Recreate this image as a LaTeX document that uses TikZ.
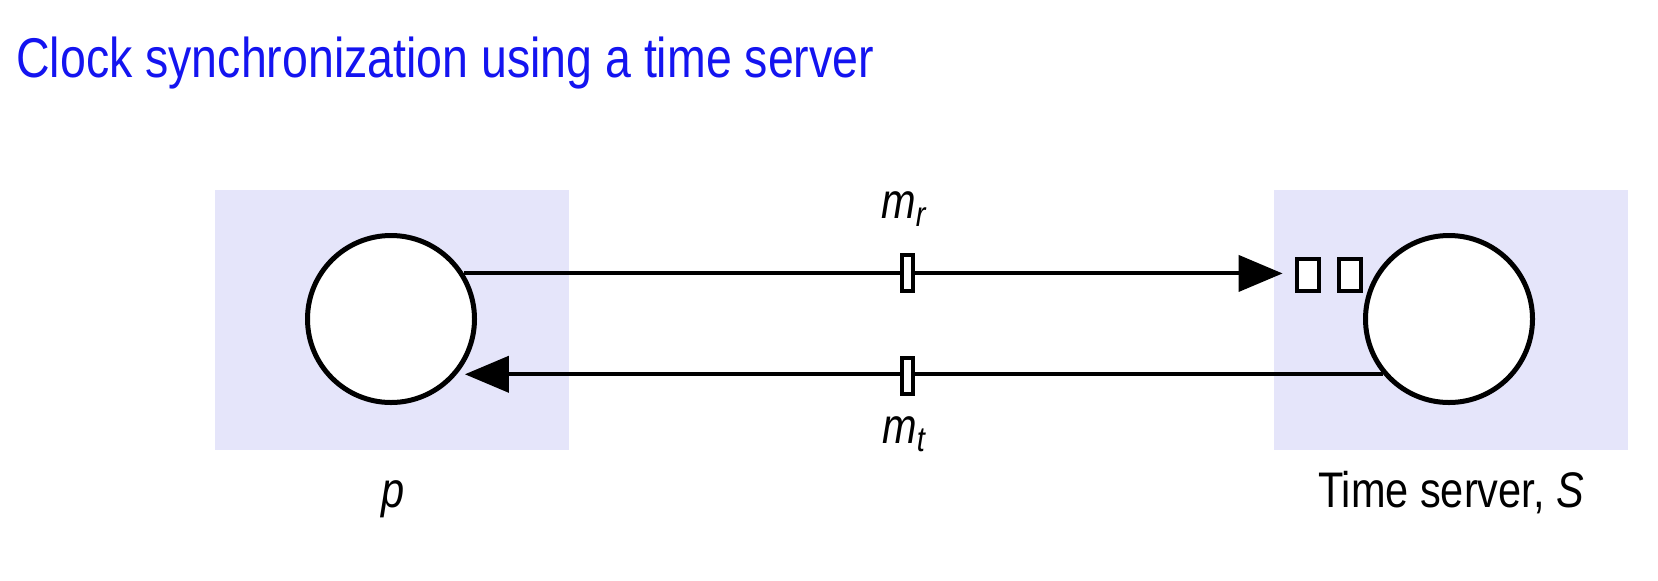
\documentclass[tikz,border=0pt]{standalone}
\usepackage{fontspec}
\setmainfont[FakeStretch=0.83]{Liberation Sans}
\usetikzlibrary{arrows.meta}

\definecolor{procbg}{RGB}{229,229,250}
\definecolor{titleblue}{RGB}{20,20,240}

\begin{document}
\begin{tikzpicture}[
    x=0.5pt, y=-0.5pt,
    every node/.style={font=\fontsize{25}{29}\selectfont},
    >={Triangle[length=22pt,width=18pt]},
    procbox/.style={fill=procbg, draw=none, minimum width=177pt, minimum height=130pt, inner sep=0pt},
    proc/.style={circle, draw=black, fill=white, line width=2.5pt, minimum size=83.5pt, inner sep=0pt},
    msg/.style={line width=2pt},
    stamp/.style={rectangle, draw=black, fill=white, line width=2pt, minimum width=5.5pt, minimum height=18pt, inner sep=0pt},
    queued/.style={rectangle, draw=black, fill=white, line width=2.4pt, minimum width=11pt, minimum height=16pt, inner sep=0pt},
]

% Canvas
\useasboundingbox (0,0) rectangle (1658,580);

% Title
\node[anchor=base west, text=titleblue, inner sep=0pt, font=\fontsize{28}{32}\selectfont] (title) at (16,77)
    {Clock synchronization using a time server};

% === Shaded areas ===
\node[procbox] (pbox) at (392,320) {};
\node[procbox] (sbox) at (1451,320) {};

% === Processes ===
\node[proc] (p) at (391,319) {};
\node[proc] (S) at (1449,319) {};

% Requests waiting at the server
\node[queued] (q1) at (1308,275) {};
\node[queued] (q2) at (1350,275) {};

% === Request m_r ===
\draw[msg, ->, shorten >=6pt] (p.32) -- (p.32 -| q1.west);
\node[stamp] (stampr) at (907,273) {};
\node (mr) at (904,209) {\itshape m\textsubscript{r}};

% === Reply m_t ===
\draw[msg, ->, shorten >=4pt] (S.220) -- (S.220 -| p.-40);
\node[stamp] (stampt) at (907,376) {};
\node (mt) at (904,434) {\itshape m\textsubscript{t}};

% === Labels ===
\node[anchor=base] (plabel) at (393,507) {\itshape p};
\node[anchor=base] (slabel) at (1451,507) {Time server, \textit{S}};

\end{tikzpicture}
\end{document}
